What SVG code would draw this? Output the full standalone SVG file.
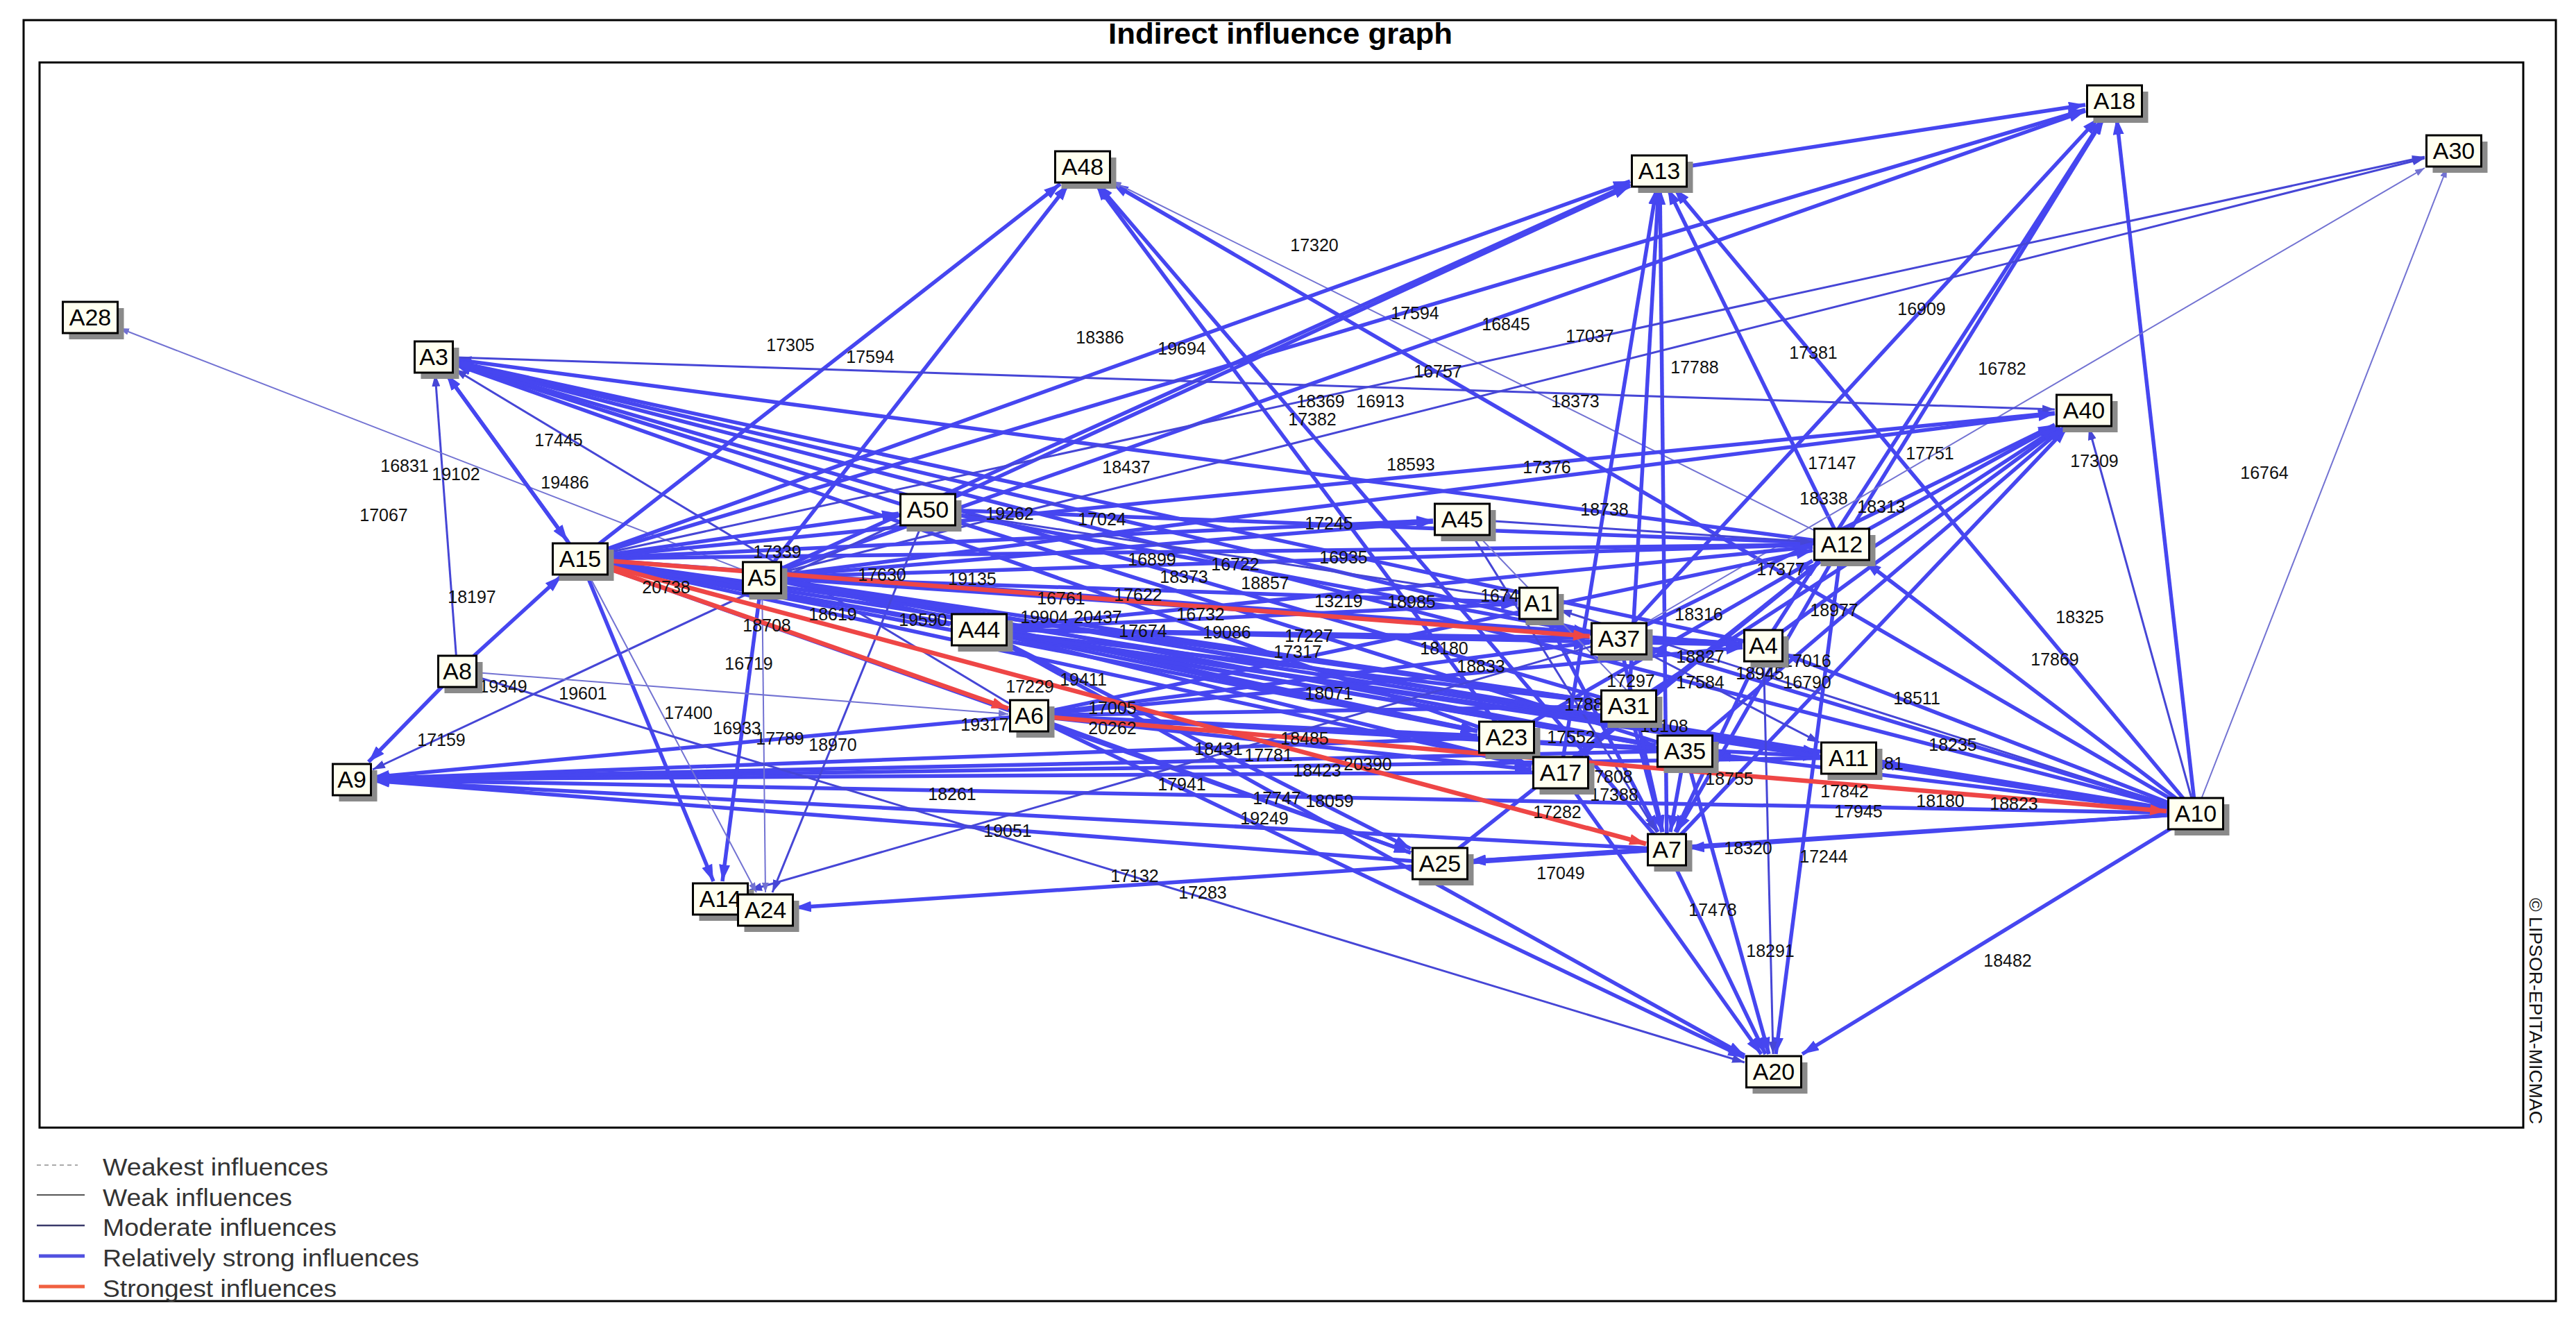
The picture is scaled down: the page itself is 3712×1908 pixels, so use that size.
<svg xmlns="http://www.w3.org/2000/svg" width="3712" height="1908" viewBox="0 0 3712 1908">
<style>
.s{fill:none;stroke:#4646f0;stroke-width:5.5;marker-end:url(#ab)}
.m{fill:none;stroke:#4646d6;stroke-width:3;marker-end:url(#am)}
.w{fill:none;stroke:#7272d2;stroke-width:2;marker-end:url(#aw)}
.r{fill:none;stroke:#ee4646;stroke-width:6.5;marker-end:url(#ar)}
.lb{font-family:"Liberation Sans",Arial,sans-serif;font-size:25px;fill:#111;text-anchor:middle}
.nb{fill:#fffff0;stroke:#000;stroke-width:3}
.sh{fill:#8a8a8a}
.nt{font-family:"Liberation Sans",Arial,sans-serif;font-size:34px;fill:#000;text-anchor:middle}
.lg{font-family:"Liberation Sans",Arial,sans-serif;font-size:35px;fill:#333}
.fr{fill:none;stroke:#000;stroke-width:3}
</style>
<defs>
<marker id="ab" viewBox="0 0 24 16" refX="24" refY="8" markerWidth="24" markerHeight="16" orient="auto" markerUnits="userSpaceOnUse"><path d="M0,0L24,8L0,16z" fill="#4646f0"/></marker>
<marker id="am" viewBox="0 0 18 12" refX="18" refY="6" markerWidth="18" markerHeight="12" orient="auto" markerUnits="userSpaceOnUse"><path d="M0,0L18,6L0,12z" fill="#4646d6"/></marker>
<marker id="aw" viewBox="0 0 14 10" refX="14" refY="5" markerWidth="14" markerHeight="10" orient="auto" markerUnits="userSpaceOnUse"><path d="M0,0L14,5L0,10z" fill="#7272d2"/></marker>
<marker id="ar" viewBox="0 0 24 16" refX="24" refY="8" markerWidth="24" markerHeight="16" orient="auto" markerUnits="userSpaceOnUse"><path d="M0,0L24,8L0,16z" fill="#ee4646"/></marker>
</defs>
<rect width="3712" height="1908" fill="#fff"/>
<rect class="fr" x="34" y="29" width="3649" height="1846"/>
<rect class="fr" x="57" y="90" width="3579" height="1535"/>
<text x="1845" y="63" font-family="Liberation Sans,Arial,sans-serif" font-size="42" font-weight="bold" text-anchor="middle" textLength="496" lengthAdjust="spacingAndGlyphs">Indirect influence graph</text>
<text transform="translate(3645,1294) rotate(90)" font-family="Liberation Sans,Arial,sans-serif" font-size="26" fill="#111" textLength="326" lengthAdjust="spacingAndGlyphs">© LIPSOR-EPITA-MICMAC</text>
<g id="legend">
<line x1="53" y1="1679" x2="112" y2="1679" stroke="#aaa" stroke-width="2" stroke-dasharray="6,5"/>
<line x1="53" y1="1722" x2="122" y2="1722" stroke="#555" stroke-width="2"/>
<line x1="53" y1="1766" x2="122" y2="1766" stroke="#3a3a6a" stroke-width="2.5"/>
<line x1="56" y1="1810" x2="122" y2="1810" stroke="#5050e0" stroke-width="5"/>
<line x1="56" y1="1854" x2="122" y2="1854" stroke="#f06040" stroke-width="5"/>
<text class="lg" x="148" y="1694" textLength="325" lengthAdjust="spacingAndGlyphs">Weakest influences</text>
<text class="lg" x="148" y="1738" textLength="273" lengthAdjust="spacingAndGlyphs">Weak influences</text>
<text class="lg" x="148" y="1781" textLength="337" lengthAdjust="spacingAndGlyphs">Moderate influences</text>
<text class="lg" x="148" y="1825" textLength="456" lengthAdjust="spacingAndGlyphs">Relatively strong influences</text>
<text class="lg" x="148" y="1869" textLength="337" lengthAdjust="spacingAndGlyphs">Strongest influences</text>
</g>
<g id="connectors">
<line class="m" x1="659" y1="967" x2="627" y2="539"/>
<line class="s" x1="836" y1="805" x2="643" y2="539"/>
<line class="s" x1="2654" y1="784" x2="655" y2="518"/>
<line class="s" x1="2333" y1="920" x2="655" y2="521"/>
<line class="s" x1="2171" y1="1062" x2="655" y2="525"/>
<line class="s" x1="2541" y1="930" x2="655" y2="521"/>
<line class="m" x1="1483" y1="1031" x2="655" y2="532"/>
<line class="s" x1="2428" y1="1082" x2="655" y2="524"/>
<line class="s" x1="2347" y1="1017" x2="655" y2="523"/>
<line class="s" x1="3164" y1="1172" x2="655" y2="522"/>
<line class="w" x1="1098" y1="832" x2="172" y2="473"/>
<line class="s" x1="836" y1="805" x2="1528" y2="265"/>
<line class="s" x1="1098" y1="832" x2="1540" y2="265"/>
<line class="s" x1="2171" y1="1062" x2="1579" y2="265"/>
<line class="s" x1="2402" y1="1224" x2="1581" y2="265"/>
<line class="s" x1="3164" y1="1172" x2="1602" y2="264"/>
<line class="w" x1="2654" y1="784" x2="1602" y2="261"/>
<line class="s" x1="836" y1="805" x2="2349" y2="261"/>
<line class="s" x1="1098" y1="832" x2="2349" y2="265"/>
<line class="s" x1="1337" y1="734" x2="2349" y2="268"/>
<line class="s" x1="2249" y1="1113" x2="2387" y2="271"/>
<line class="s" x1="2347" y1="1017" x2="2390" y2="271"/>
<line class="s" x1="2402" y1="1224" x2="2392" y2="271"/>
<line class="s" x1="2654" y1="784" x2="2403" y2="271"/>
<line class="s" x1="3164" y1="1172" x2="2412" y2="271"/>
<line class="s" x1="2391" y1="246" x2="3005" y2="151"/>
<line class="s" x1="836" y1="805" x2="3005" y2="158"/>
<line class="s" x1="1098" y1="832" x2="3005" y2="160"/>
<line class="s" x1="2333" y1="920" x2="3024" y2="170"/>
<line class="s" x1="2654" y1="784" x2="3032" y2="170"/>
<line class="s" x1="2541" y1="930" x2="3031" y2="170"/>
<line class="s" x1="3164" y1="1172" x2="3050" y2="170"/>
<line class="m" x1="836" y1="805" x2="3494" y2="226"/>
<line class="m" x1="1098" y1="832" x2="3494" y2="228"/>
<line class="w" x1="2333" y1="920" x2="3494" y2="242"/>
<line class="w" x1="3164" y1="1172" x2="3526" y2="242"/>
<line class="s" x1="836" y1="805" x2="2961" y2="595"/>
<line class="m" x1="625" y1="514" x2="2961" y2="590"/>
<line class="s" x1="1098" y1="832" x2="2961" y2="596"/>
<line class="s" x1="2333" y1="920" x2="2961" y2="612"/>
<line class="s" x1="2654" y1="784" x2="2961" y2="614"/>
<line class="s" x1="2541" y1="930" x2="2969" y2="616"/>
<line class="s" x1="2347" y1="1017" x2="2965" y2="616"/>
<line class="s" x1="2402" y1="1224" x2="2979" y2="616"/>
<line class="s" x1="2428" y1="1082" x2="2974" y2="616"/>
<line class="m" x1="3164" y1="1172" x2="3010" y2="616"/>
<line class="s" x1="1098" y1="832" x2="2065" y2="752"/>
<line class="s" x1="836" y1="805" x2="2065" y2="750"/>
<line class="s" x1="836" y1="805" x2="2612" y2="785"/>
<line class="s" x1="1098" y1="832" x2="2612" y2="785"/>
<line class="s" x1="1337" y1="734" x2="2612" y2="782"/>
<line class="s" x1="1411" y1="907" x2="2612" y2="788"/>
<line class="s" x1="1483" y1="1031" x2="2612" y2="793"/>
<line class="m" x1="2107" y1="748" x2="2612" y2="781"/>
<line class="s" x1="2171" y1="1062" x2="2612" y2="808"/>
<line class="s" x1="2249" y1="1113" x2="2623" y2="809"/>
<line class="s" x1="2075" y1="1244" x2="2623" y2="809"/>
<line class="s" x1="3164" y1="1172" x2="2687" y2="809"/>
<line class="s" x1="1098" y1="832" x2="2187" y2="868"/>
<line class="m" x1="1337" y1="734" x2="2187" y2="864"/>
<line class="s" x1="1411" y1="907" x2="2187" y2="870"/>
<line class="m" x1="3164" y1="1172" x2="2247" y2="879"/>
<line class="s" x1="1411" y1="907" x2="2291" y2="919"/>
<line class="s" x1="1337" y1="734" x2="2291" y2="912"/>
<line class="s" x1="1483" y1="1031" x2="2291" y2="926"/>
<line class="s" x1="3164" y1="1172" x2="2375" y2="933"/>
<line class="s" x1="2333" y1="920" x2="2511" y2="929"/>
<line class="s" x1="836" y1="805" x2="2511" y2="928"/>
<line class="s" x1="1098" y1="832" x2="2511" y2="928"/>
<line class="s" x1="1411" y1="907" x2="2511" y2="929"/>
<line class="s" x1="1483" y1="1031" x2="2511" y2="933"/>
<line class="s" x1="3164" y1="1172" x2="2571" y2="942"/>
<line class="s" x1="836" y1="805" x2="2305" y2="1011"/>
<line class="s" x1="1411" y1="907" x2="2305" y2="1012"/>
<line class="s" x1="1483" y1="1031" x2="2305" y2="1018"/>
<line class="s" x1="1098" y1="832" x2="2305" y2="1011"/>
<line class="s" x1="836" y1="805" x2="2129" y2="1054"/>
<line class="s" x1="1098" y1="832" x2="2129" y2="1053"/>
<line class="s" x1="1411" y1="907" x2="2129" y2="1053"/>
<line class="s" x1="1483" y1="1031" x2="2129" y2="1060"/>
<line class="s" x1="836" y1="805" x2="2386" y2="1075"/>
<line class="s" x1="1098" y1="832" x2="2386" y2="1074"/>
<line class="s" x1="1411" y1="907" x2="2386" y2="1075"/>
<line class="s" x1="1483" y1="1031" x2="2386" y2="1080"/>
<line class="w" x1="2107" y1="748" x2="2404" y2="1057"/>
<line class="s" x1="3164" y1="1172" x2="2470" y2="1087"/>
<line class="s" x1="836" y1="805" x2="2622" y2="1085"/>
<line class="s" x1="1098" y1="832" x2="2622" y2="1085"/>
<line class="s" x1="1411" y1="907" x2="2622" y2="1086"/>
<line class="s" x1="1483" y1="1031" x2="2622" y2="1090"/>
<line class="m" x1="2333" y1="920" x2="2622" y2="1070"/>
<line class="s" x1="3164" y1="1172" x2="2706" y2="1099"/>
<line class="s" x1="836" y1="805" x2="2207" y2="1104"/>
<line class="s" x1="1483" y1="1031" x2="2207" y2="1109"/>
<line class="s" x1="1411" y1="907" x2="2207" y2="1103"/>
<line class="s" x1="2333" y1="920" x2="2396" y2="1199"/>
<line class="s" x1="2541" y1="930" x2="2414" y2="1199"/>
<line class="s" x1="2654" y1="784" x2="2416" y2="1199"/>
<line class="s" x1="2347" y1="1017" x2="2395" y2="1199"/>
<line class="s" x1="2428" y1="1082" x2="2407" y2="1199"/>
<line class="s" x1="2217" y1="869" x2="2389" y2="1199"/>
<line class="m" x1="2107" y1="748" x2="2387" y2="1199"/>
<line class="s" x1="3164" y1="1172" x2="2432" y2="1222"/>
<line class="s" x1="1098" y1="832" x2="3122" y2="1165"/>
<line class="s" x1="1411" y1="907" x2="3122" y2="1166"/>
<line class="s" x1="1483" y1="1031" x2="2033" y2="1229"/>
<line class="s" x1="1411" y1="907" x2="2033" y2="1223"/>
<line class="s" x1="2402" y1="1224" x2="2117" y2="1241"/>
<line class="s" x1="3164" y1="1172" x2="2117" y2="1241"/>
<line class="s" x1="836" y1="805" x2="2033" y2="1229"/>
<line class="s" x1="659" y1="967" x2="531" y2="1098"/>
<line class="m" x1="1337" y1="734" x2="537" y2="1109"/>
<line class="s" x1="3164" y1="1172" x2="537" y2="1124"/>
<line class="s" x1="2664" y1="1092" x2="537" y2="1123"/>
<line class="s" x1="2428" y1="1082" x2="537" y2="1122"/>
<line class="s" x1="2402" y1="1224" x2="537" y2="1125"/>
<line class="s" x1="2249" y1="1113" x2="537" y2="1123"/>
<line class="s" x1="1483" y1="1031" x2="537" y2="1120"/>
<line class="s" x1="2171" y1="1062" x2="537" y2="1122"/>
<line class="s" x1="2075" y1="1244" x2="537" y2="1125"/>
<line class="s" x1="625" y1="514" x2="818" y2="780"/>
<line class="s" x1="659" y1="967" x2="809" y2="830"/>
<line class="s" x1="836" y1="805" x2="1028" y2="1270"/>
<line class="s" x1="1098" y1="832" x2="1041" y2="1270"/>
<line class="m" x1="2333" y1="920" x2="1080" y2="1283"/>
<line class="w" x1="1098" y1="832" x2="1103" y2="1286"/>
<line class="s" x1="2402" y1="1224" x2="1145" y2="1308"/>
<line class="m" x1="1337" y1="734" x2="1113" y2="1286"/>
<line class="w" x1="836" y1="805" x2="1090" y2="1286"/>
<line class="m" x1="659" y1="967" x2="2514" y2="1531"/>
<line class="s" x1="1483" y1="1031" x2="2514" y2="1524"/>
<line class="s" x1="1411" y1="907" x2="2514" y2="1521"/>
<line class="s" x1="2249" y1="1113" x2="2538" y2="1519"/>
<line class="s" x1="2402" y1="1224" x2="2544" y2="1519"/>
<line class="s" x1="2428" y1="1082" x2="2549" y2="1519"/>
<line class="s" x1="2654" y1="784" x2="2559" y2="1519"/>
<line class="s" x1="3164" y1="1172" x2="2597" y2="1519"/>
<line class="m" x1="2541" y1="930" x2="2555" y2="1519"/>
<line class="w" x1="659" y1="967" x2="1453" y2="1029"/>
<line class="s" x1="836" y1="805" x2="1369" y2="900"/>
<line class="s" x1="836" y1="805" x2="1295" y2="740"/>
<line class="r" x1="836" y1="805" x2="2291" y2="917"/>
<line class="r" x1="836" y1="805" x2="1453" y2="1021"/>
<line class="r" x1="836" y1="805" x2="2372" y2="1216"/>
<line class="r" x1="1483" y1="1031" x2="3122" y2="1169"/>
<g id="edge-labels">
<text class="lb" x="1139" y="506">17305</text>
<text class="lb" x="1254" y="523">17594</text>
<text class="lb" x="1585" y="495">18386</text>
<text class="lb" x="1703" y="511">19694</text>
<text class="lb" x="1894" y="362">17320</text>
<text class="lb" x="2039" y="460">17594</text>
<text class="lb" x="2170" y="476">16845</text>
<text class="lb" x="2291" y="493">17037</text>
<text class="lb" x="2072" y="544">16757</text>
<text class="lb" x="2442" y="538">17788</text>
<text class="lb" x="2613" y="517">17381</text>
<text class="lb" x="2769" y="454">16909</text>
<text class="lb" x="2885" y="540">16782</text>
<text class="lb" x="3263" y="690">16764</text>
<text class="lb" x="3018" y="673">17309</text>
<text class="lb" x="2997" y="898">18325</text>
<text class="lb" x="2961" y="959">17869</text>
<text class="lb" x="1903" y="587">18369</text>
<text class="lb" x="1989" y="587">16913</text>
<text class="lb" x="1891" y="613">17382</text>
<text class="lb" x="2270" y="587">18373</text>
<text class="lb" x="1623" y="682">18437</text>
<text class="lb" x="2033" y="678">18593</text>
<text class="lb" x="2229" y="682">17376</text>
<text class="lb" x="2640" y="676">17147</text>
<text class="lb" x="2781" y="662">17751</text>
<text class="lb" x="2628" y="727">18338</text>
<text class="lb" x="2711" y="739">18313</text>
<text class="lb" x="2312" y="743">18738</text>
<text class="lb" x="1915" y="763">17245</text>
<text class="lb" x="1936" y="812">16935</text>
<text class="lb" x="1823" y="849">18857</text>
<text class="lb" x="1929" y="875">13219</text>
<text class="lb" x="2034" y="876">18985</text>
<text class="lb" x="2161" y="867">1674</text>
<text class="lb" x="2448" y="894">18316</text>
<text class="lb" x="2566" y="829">17377</text>
<text class="lb" x="2643" y="888">18977</text>
<text class="lb" x="2081" y="943">18180</text>
<text class="lb" x="2134" y="969">18833</text>
<text class="lb" x="2450" y="955">18827</text>
<text class="lb" x="2604" y="961">17016</text>
<text class="lb" x="2536" y="979">18945</text>
<text class="lb" x="2604" y="992">16790</text>
<text class="lb" x="2350" y="990">17297</text>
<text class="lb" x="2450" y="992">17584</text>
<text class="lb" x="2282" y="1024">1788</text>
<text class="lb" x="1915" y="1008">18071</text>
<text class="lb" x="2264" y="1071">17552</text>
<text class="lb" x="2398" y="1055">18108</text>
<text class="lb" x="2762" y="1015">18511</text>
<text class="lb" x="2814" y="1082">18235</text>
<text class="lb" x="2722" y="1109">181</text>
<text class="lb" x="2492" y="1131">18755</text>
<text class="lb" x="2658" y="1149">17842</text>
<text class="lb" x="2678" y="1178">17945</text>
<text class="lb" x="2796" y="1163">18180</text>
<text class="lb" x="2902" y="1167">18823</text>
<text class="lb" x="2519" y="1231">18320</text>
<text class="lb" x="2628" y="1243">17244</text>
<text class="lb" x="2249" y="1267">17049</text>
<text class="lb" x="2468" y="1320">17478</text>
<text class="lb" x="2551" y="1379">18291</text>
<text class="lb" x="2893" y="1393">18482</text>
<text class="lb" x="2244" y="1179">17282</text>
<text class="lb" x="2318" y="1128">17808</text>
<text class="lb" x="2326" y="1154">17388</text>
<text class="lb" x="1971" y="1110">20390</text>
<text class="lb" x="1898" y="1119">18423</text>
<text class="lb" x="1880" y="1073">18485</text>
<text class="lb" x="1916" y="1163">18059</text>
<text class="lb" x="1840" y="1159">17747</text>
<text class="lb" x="1828" y="1097">17781</text>
<text class="lb" x="1822" y="1188">19249</text>
<text class="lb" x="1756" y="1088">18431</text>
<text class="lb" x="1703" y="1139">17941</text>
<text class="lb" x="1452" y="1206">19051</text>
<text class="lb" x="1372" y="1153">18261</text>
<text class="lb" x="1635" y="1271">17132</text>
<text class="lb" x="1733" y="1295">17283</text>
<text class="lb" x="1419" y="1053">19317</text>
<text class="lb" x="1484" y="998">17229</text>
<text class="lb" x="1561" y="988">19411</text>
<text class="lb" x="1603" y="1029">17005</text>
<text class="lb" x="1603" y="1058">20262</text>
<text class="lb" x="1200" y="894">18619</text>
<text class="lb" x="1105" y="910">18708</text>
<text class="lb" x="1079" y="965">16719</text>
<text class="lb" x="992" y="1036">17400</text>
<text class="lb" x="1062" y="1058">16933</text>
<text class="lb" x="1124" y="1073">17789</text>
<text class="lb" x="1200" y="1082">18970</text>
<text class="lb" x="1271" y="837">17630</text>
<text class="lb" x="1401" y="843">19135</text>
<text class="lb" x="1529" y="871">16761</text>
<text class="lb" x="1330" y="902">19590</text>
<text class="lb" x="1505" y="898">19904</text>
<text class="lb" x="1582" y="898">20437</text>
<text class="lb" x="1647" y="918">17674</text>
<text class="lb" x="1730" y="894">16732</text>
<text class="lb" x="1768" y="920">19086</text>
<text class="lb" x="1660" y="815">16899</text>
<text class="lb" x="1706" y="840">18373</text>
<text class="lb" x="1780" y="822">16722</text>
<text class="lb" x="1640" y="866">17622</text>
<text class="lb" x="1588" y="757">17024</text>
<text class="lb" x="1455" y="749">19262</text>
<text class="lb" x="1120" y="804">17339</text>
<text class="lb" x="960" y="855">20738</text>
<text class="lb" x="725" y="998">19349</text>
<text class="lb" x="840" y="1008">19601</text>
<text class="lb" x="636" y="1075">17159</text>
<text class="lb" x="680" y="869">18197</text>
<text class="lb" x="553" y="751">17067</text>
<text class="lb" x="583" y="680">16831</text>
<text class="lb" x="657" y="692">19102</text>
<text class="lb" x="814" y="704">19486</text>
<text class="lb" x="805" y="643">17445</text>
<text class="lb" x="1886" y="925">17227</text>
<text class="lb" x="1870" y="948">17317</text>
</g>
</g>
<g id="nodes">
<g id="A28"><rect class="sh" x="99.5" y="444" width="79" height="45"/><rect class="nb" x="90.5" y="435" width="79" height="45"/><text class="nt" x="130" y="469">A28</text></g>
<g id="A3"><rect class="sh" x="606.5" y="501" width="55" height="45"/><rect class="nb" x="597.5" y="492" width="55" height="45"/><text class="nt" x="625" y="526">A3</text></g>
<g id="A48"><rect class="sh" x="1529.5" y="227" width="79" height="45"/><rect class="nb" x="1520.5" y="218" width="79" height="45"/><text class="nt" x="1560" y="252">A48</text></g>
<g id="A13"><rect class="sh" x="2360.5" y="233" width="79" height="45"/><rect class="nb" x="2351.5" y="224" width="79" height="45"/><text class="nt" x="2391" y="258">A13</text></g>
<g id="A18"><rect class="sh" x="3016.5" y="132" width="79" height="45"/><rect class="nb" x="3007.5" y="123" width="79" height="45"/><text class="nt" x="3047" y="157">A18</text></g>
<g id="A30"><rect class="sh" x="3505.5" y="204" width="79" height="45"/><rect class="nb" x="3496.5" y="195" width="79" height="45"/><text class="nt" x="3536" y="229">A30</text></g>
<g id="A40"><rect class="sh" x="2972.5" y="578" width="79" height="45"/><rect class="nb" x="2963.5" y="569" width="79" height="45"/><text class="nt" x="3003" y="603">A40</text></g>
<g id="A15"><rect class="sh" x="805.5" y="792" width="79" height="45"/><rect class="nb" x="796.5" y="783" width="79" height="45"/><text class="nt" x="836" y="817">A15</text></g>
<g id="A8"><rect class="sh" x="640.5" y="954" width="55" height="45"/><rect class="nb" x="631.5" y="945" width="55" height="45"/><text class="nt" x="659" y="979">A8</text></g>
<g id="A9"><rect class="sh" x="488.5" y="1110" width="55" height="45"/><rect class="nb" x="479.5" y="1101" width="55" height="45"/><text class="nt" x="507" y="1135">A9</text></g>
<g id="A50"><rect class="sh" x="1306.5" y="721" width="79" height="45"/><rect class="nb" x="1297.5" y="712" width="79" height="45"/><text class="nt" x="1337" y="746">A50</text></g>
<g id="A5"><rect class="sh" x="1079.5" y="819" width="55" height="45"/><rect class="nb" x="1070.5" y="810" width="55" height="45"/><text class="nt" x="1098" y="844">A5</text></g>
<g id="A44"><rect class="sh" x="1380.5" y="894" width="79" height="45"/><rect class="nb" x="1371.5" y="885" width="79" height="45"/><text class="nt" x="1411" y="919">A44</text></g>
<g id="A6"><rect class="sh" x="1464.5" y="1018" width="55" height="45"/><rect class="nb" x="1455.5" y="1009" width="55" height="45"/><text class="nt" x="1483" y="1043">A6</text></g>
<g id="A14"><rect class="sh" x="1007.5" y="1282" width="79" height="45"/><rect class="nb" x="998.5" y="1273" width="79" height="45"/><text class="nt" x="1038" y="1307">A14</text></g>
<g id="A24"><rect class="sh" x="1072.5" y="1298" width="79" height="45"/><rect class="nb" x="1063.5" y="1289" width="79" height="45"/><text class="nt" x="1103" y="1323">A24</text></g>
<g id="A45"><rect class="sh" x="2076.5" y="735" width="79" height="45"/><rect class="nb" x="2067.5" y="726" width="79" height="45"/><text class="nt" x="2107" y="760">A45</text></g>
<g id="A12"><rect class="sh" x="2623.5" y="771" width="79" height="45"/><rect class="nb" x="2614.5" y="762" width="79" height="45"/><text class="nt" x="2654" y="796">A12</text></g>
<g id="A1"><rect class="sh" x="2198.5" y="856" width="55" height="45"/><rect class="nb" x="2189.5" y="847" width="55" height="45"/><text class="nt" x="2217" y="881">A1</text></g>
<g id="A37"><rect class="sh" x="2302.5" y="907" width="79" height="45"/><rect class="nb" x="2293.5" y="898" width="79" height="45"/><text class="nt" x="2333" y="932">A37</text></g>
<g id="A4"><rect class="sh" x="2522.5" y="917" width="55" height="45"/><rect class="nb" x="2513.5" y="908" width="55" height="45"/><text class="nt" x="2541" y="942">A4</text></g>
<g id="A31"><rect class="sh" x="2316.5" y="1004" width="79" height="45"/><rect class="nb" x="2307.5" y="995" width="79" height="45"/><text class="nt" x="2347" y="1029">A31</text></g>
<g id="A23"><rect class="sh" x="2140.5" y="1049" width="79" height="45"/><rect class="nb" x="2131.5" y="1040" width="79" height="45"/><text class="nt" x="2171" y="1074">A23</text></g>
<g id="A35"><rect class="sh" x="2397.5" y="1069" width="79" height="45"/><rect class="nb" x="2388.5" y="1060" width="79" height="45"/><text class="nt" x="2428" y="1094">A35</text></g>
<g id="A11"><rect class="sh" x="2633.5" y="1079" width="79" height="45"/><rect class="nb" x="2624.5" y="1070" width="79" height="45"/><text class="nt" x="2664" y="1104">A11</text></g>
<g id="A17"><rect class="sh" x="2218.5" y="1100" width="79" height="45"/><rect class="nb" x="2209.5" y="1091" width="79" height="45"/><text class="nt" x="2249" y="1125">A17</text></g>
<g id="A7"><rect class="sh" x="2383.5" y="1211" width="55" height="45"/><rect class="nb" x="2374.5" y="1202" width="55" height="45"/><text class="nt" x="2402" y="1236">A7</text></g>
<g id="A25"><rect class="sh" x="2044.5" y="1231" width="79" height="45"/><rect class="nb" x="2035.5" y="1222" width="79" height="45"/><text class="nt" x="2075" y="1256">A25</text></g>
<g id="A10"><rect class="sh" x="3133.5" y="1159" width="79" height="45"/><rect class="nb" x="3124.5" y="1150" width="79" height="45"/><text class="nt" x="3164" y="1184">A10</text></g>
<g id="A20"><rect class="sh" x="2525.5" y="1531" width="79" height="45"/><rect class="nb" x="2516.5" y="1522" width="79" height="45"/><text class="nt" x="2556" y="1556">A20</text></g>
</g>
</svg>
